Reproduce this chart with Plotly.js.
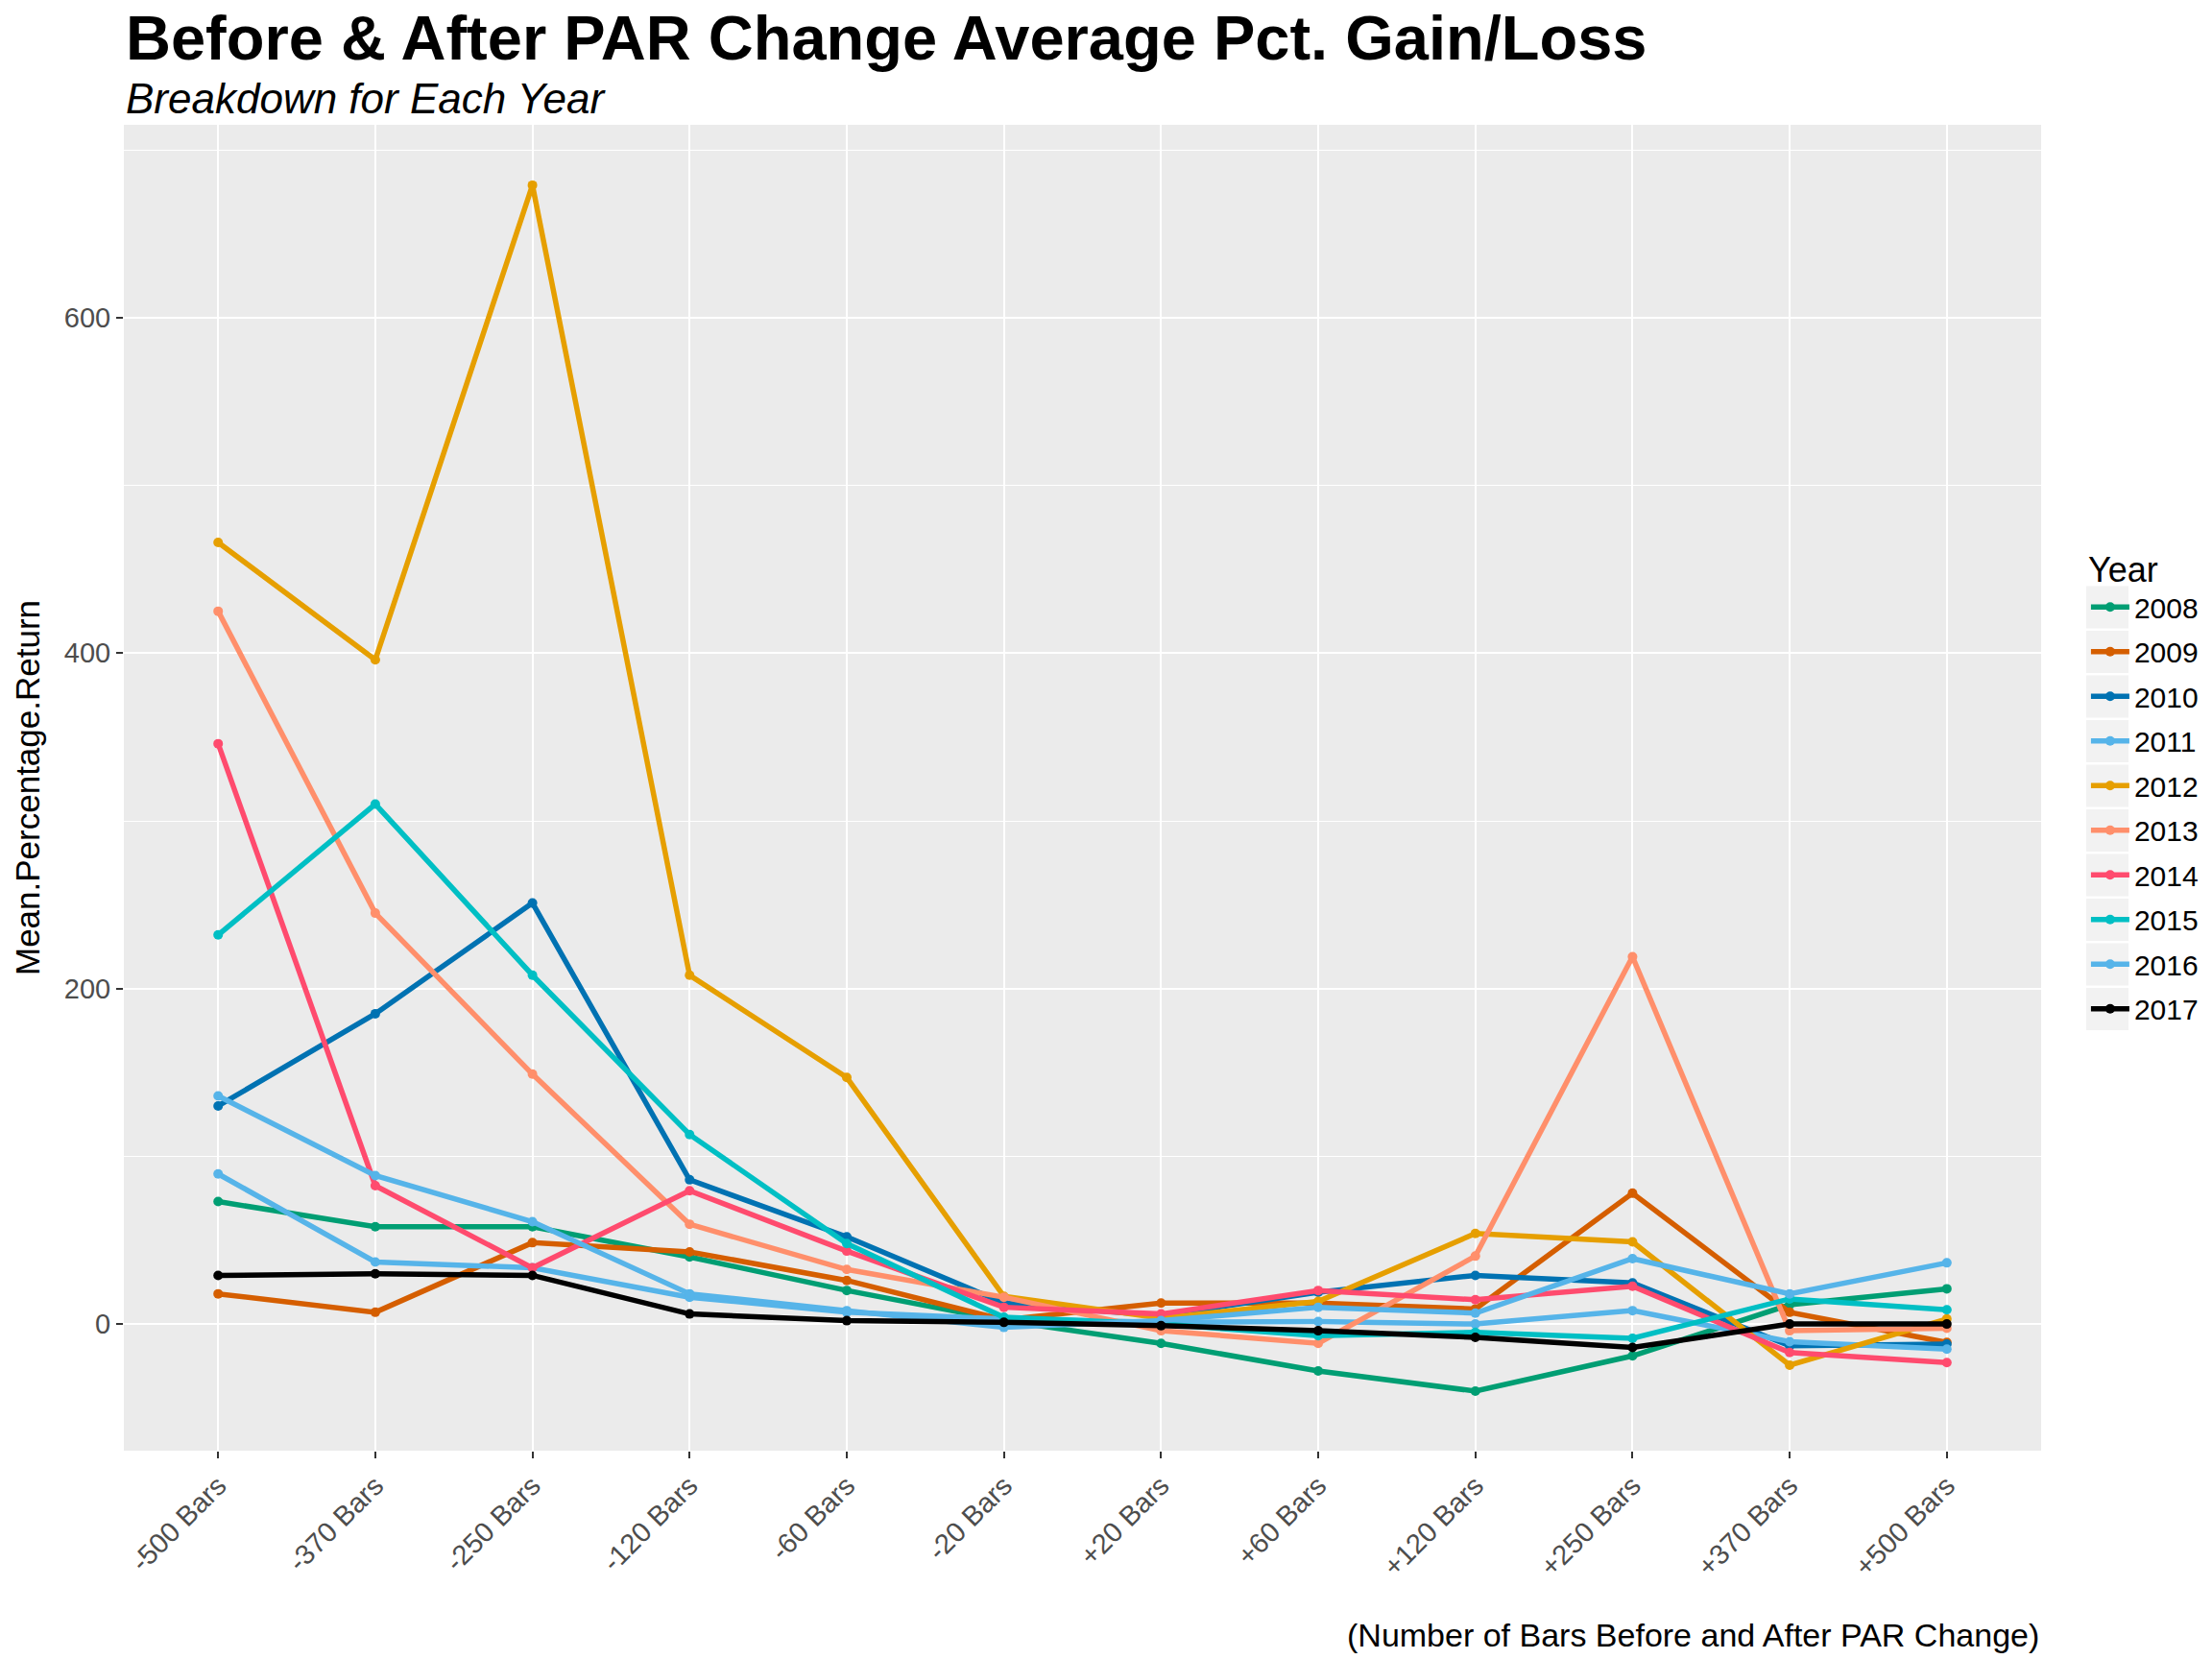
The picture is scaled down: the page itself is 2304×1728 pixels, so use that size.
<!DOCTYPE html>
<html>
<head>
<meta charset="utf-8">
<script src="https://cdn.plot.ly/plotly-3.0.1.min.js"></script>
<style>html,body{margin:0;padding:0;background:#fff;}#chart{width:2304px;height:1728px;}</style>
</head>
<body>
<div id="chart"></div>
<script>
const categories = ["-500 Bars","-370 Bars","-250 Bars","-120 Bars","-60 Bars","-20 Bars","+20 Bars","+60 Bars","+120 Bars","+250 Bars","+370 Bars","+500 Bars"];
const years = ["2008","2009","2010","2011","2012","2013","2014","2015","2016","2017"];
const y2008 = [73, 58, 58, 40, 20, 2, -11.5, -28, -40, -19, 11.5, 21];
const y2009 = [18, 7, 48.5, 43, 26, 2.5, 12.5, 12.5, 9, 78, 7, -11];
const y2010 = [130, 185, 251, 86, 52, 12.5, 5, 19, 29, 24.5, -13, -12];
const y2011 = [89.5, 37, 33.5, 16, 7, 3, 1, 1.5, 0, 8, -10.5, -15];
const y2012 = [466, 396, 679, 208, 147, 16.5, 3.5, 13.5, 54, 49, -24.5, 3];
const y2013 = [425, 245, 149, 59.5, 32.5, 16, -4, -11.5, 40.5, 219, -4, -2.5];
const y2014 = [346, 82.5, 33.5, 79.5, 43.5, 10, 6, 20, 14.5, 22.5, -17, -23];
const y2015 = [232, 310, 208, 113, 48, 4, 0, -7, -5, -8.5, 15, 8.5];
const y2016 = [136, 88.5, 61, 18, 8, -2, 2, 10, 6.5, 39, 18, 36.5];
const y2017 = [29, 30, 29, 6, 2, 1, -1, -4, -8, -14, 0, 0];
const seriesValues = [y2008, y2009, y2010, y2011, y2012, y2013, y2014, y2015, y2016, y2017];
const colors = ["#009E73","#D55E00","#0072B2","#56B4E9","#E69F00","#FF8F6B","#FF4B6E","#00BFC4","#56B4E9","#000000"];

const traces = years.map((yr, i) => ({
  type: "scatter",
  mode: "lines+markers",
  name: yr,
  legendgroup: yr,
  x: categories,
  y: seriesValues[i],
  line: {color: colors[i], width: 5.5},
  marker: {color: colors[i], size: 10},
  cliponaxis: false
}));

// legend key background boxes (decoration, ggplot-style)
const plotTop = 130, plotBottom = 1511, plotLeft = 129, plotRight = 2126;
const pw = plotRight - plotLeft, ph = plotBottom - plotTop;
const keyShapes = years.map((yr, i) => {
  const cy = 632.6 + 46.5 * i;
  return {
    type: "rect", xref: "paper", yref: "paper", layer: "below",
    x0: (2173 - plotLeft) / pw, x1: (2217 - plotLeft) / pw,
    y0: (plotBottom - (cy + 22)) / ph, y1: (plotBottom - (cy - 22)) / ph,
    fillcolor: "#F2F2F2", line: {width: 0}
  };
});

const fontFam = "Liberation Sans, Arial, sans-serif";
const layout = {
  width: 2304, height: 1728,
  margin: {l: plotLeft, r: 2304 - plotRight, t: plotTop, b: 1728 - plotBottom, autoexpand: false},
  paper_bgcolor: "#ffffff",
  plot_bgcolor: "#EBEBEB",
  font: {family: fontFam, color: "#000000"},
  showlegend: true,
  legend: {
    x: 1.0235, xanchor: "left", y: 0.689, yanchor: "top",
    bgcolor: "rgba(0,0,0,0)",
    font: {size: 30, family: fontFam, color: "#000000"},
    title: {text: "Year", font: {size: 36, family: fontFam, color: "#000000"}},
    tracegroupgap: 4.5,
    itemwidth: 40
  },
  shapes: keyShapes,
  xaxis: {
    type: "category",
    range: [-0.6, 11.6],
    showgrid: true, gridcolor: "#FFFFFF", gridwidth: 2,
    zeroline: false, showline: false,
    ticks: "outside", ticklen: 7, tickwidth: 2, tickcolor: "#333333",
    tickangle: -45,
    tickfont: {size: 29, family: fontFam, color: "#4D4D4D"}
  },
  yaxis: {
    range: [-75.5, 715],
    tickvals: [0, 200, 400, 600],
    ticktext: ["0", "200", "400", "600"],
    showgrid: true, gridcolor: "#FFFFFF", gridwidth: 2,
    minor: {tickvals: [-100, 100, 300, 500, 700], showgrid: true, gridcolor: "#FFFFFF", gridwidth: 1, ticks: ""},
    zeroline: false, showline: false,
    ticks: "outside", ticklen: 7, tickwidth: 2, tickcolor: "#333333",
    tickfont: {size: 29, family: fontFam, color: "#4D4D4D"},
    title: {text: "Mean.Percentage.Return", font: {size: 35, family: fontFam, color: "#000000"}, standoff: 14}
  },
  annotations: [
    {text: "<b>Before & After PAR Change Average Pct. Gain/Loss</b>", xref: "paper", yref: "paper", x: 0, y: 1.0652, xanchor: "left", yanchor: "middle", showarrow: false, font: {size: 65, family: fontFam, color: "#000000"}},
    {text: "<i>Breakdown for Each Year</i>", xref: "paper", yref: "paper", x: 0, y: 1.0197, xanchor: "left", yanchor: "middle", showarrow: false, font: {size: 44, family: fontFam, color: "#000000"}},
    {text: "(Number of Bars Before and After PAR Change)", xref: "paper", yref: "paper", x: 1, y: (plotBottom - 1703) / ph, xanchor: "right", yanchor: "middle", showarrow: false, font: {size: 34, family: fontFam, color: "#000000"}}
  ]
};

Plotly.newPlot("chart", traces, layout, {displayModeBar: false, staticPlot: true});
</script>
</body>
</html>
